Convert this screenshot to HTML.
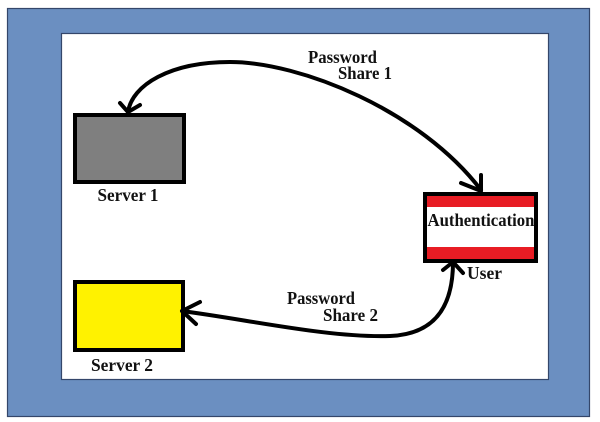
<!DOCTYPE html>
<html><head><meta charset="utf-8"><style>
html,body{margin:0;padding:0;background:#fff;width:600px;height:422px;overflow:hidden}
svg{display:block}
text{font-family:"Liberation Serif",serif;font-weight:bold;fill:#111}
</style></head><body>
<svg width="600" height="422" viewBox="0 0 600 422" xmlns="http://www.w3.org/2000/svg">
<rect x="0" y="0" width="600" height="422" fill="#fff"/>
<rect x="7.5" y="8.5" width="582" height="408" fill="#6b8fc1" stroke="#34466a" stroke-width="1.2"/>
<rect x="61.5" y="33.5" width="487" height="346" fill="#fff" stroke="#34466a" stroke-width="1.2"/>
<!-- Server 1 -->
<rect x="75" y="115" width="109" height="67" fill="#7f7f7f" stroke="#000" stroke-width="4"/>
<text x="128" y="201" font-size="17.5" text-anchor="middle" textLength="61" lengthAdjust="spacingAndGlyphs">Server 1</text>
<!-- Server 2 -->
<rect x="75" y="282" width="108" height="68" fill="#fff200" stroke="#000" stroke-width="4"/>
<text x="122" y="371" font-size="17.5" text-anchor="middle" textLength="62" lengthAdjust="spacingAndGlyphs">Server 2</text>
<!-- Auth -->
<rect x="425" y="194" width="111" height="67" fill="#fff" stroke="#000" stroke-width="4"/>
<rect x="427" y="196" width="107" height="11" fill="#e81c24"/>
<rect x="427" y="247" width="107" height="12" fill="#e81c24"/>
<text x="481" y="226" font-size="18" text-anchor="middle" textLength="107" lengthAdjust="spacingAndGlyphs">Authentication</text>
<text x="467" y="279" font-size="17.5" textLength="35" lengthAdjust="spacingAndGlyphs">User</text>
<!-- labels -->
<text x="308" y="63" font-size="17.5" textLength="69" lengthAdjust="spacingAndGlyphs">Password</text>
<text x="338" y="79" font-size="17.5" textLength="54" lengthAdjust="spacingAndGlyphs">Share 1</text>
<text x="287" y="304" font-size="17.5" textLength="68" lengthAdjust="spacingAndGlyphs">Password</text>
<text x="323" y="321" font-size="17.5" textLength="55" lengthAdjust="spacingAndGlyphs">Share 2</text>
<!-- connectors -->
<g fill="none" stroke="#000" stroke-width="4" stroke-linecap="round" stroke-linejoin="round">
<path d="M128,112 C132,85 170,62 230,62 C300,62 420,110 481,190"/>
<path d="M120,103 L128,112 L140,105"/>
<path d="M481,175 L481,191 L461,183"/>
<path d="M182,311 C250,320 330,338 390,336 C440,334 453,300 453,262"/>
<path d="M200,302 L182,311 L196,324"/>
<path d="M443,270 L453,262 L463,273"/>
</g>
</svg>
</body></html>
